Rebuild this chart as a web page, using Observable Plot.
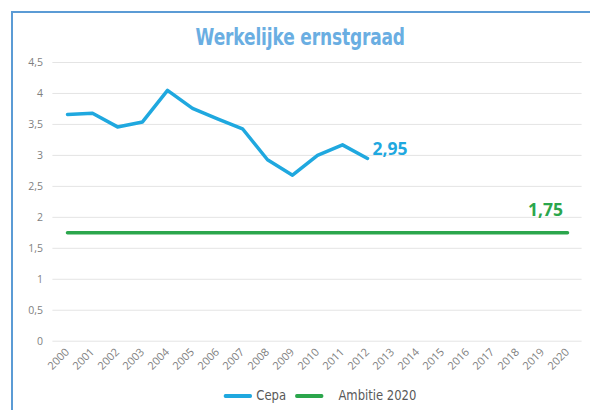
<!DOCTYPE html>
<html>
<head>
<meta charset="utf-8">
<script src="https://cdn.jsdelivr.net/npm/d3@7"></script>
<script src="https://cdn.jsdelivr.net/npm/@observablehq/plot@0.6"></script>
<style>
  html, body { margin: 0; padding: 0; background: #fff; width: 590px; height: 410px; overflow: hidden; }
  #frame { position: absolute; left: 11px; top: 11px; width: 600px; height: 420px;
           border-left: 2px solid #5b9bd5; border-top: 2px solid #5b9bd5; box-sizing: border-box; }
  #title { position: absolute; left: 0; width: 600px; top: 24px; text-align: center;
           font-family: "DejaVu Sans", sans-serif; font-weight: bold; font-size: 23px; line-height: 26px;
           color: #6aaee2; transform: scaleX(0.74); transform-origin: 301px 0; letter-spacing: -0.2px; }
  #chart { position: absolute; left: 0; top: 50px; }
  #legend { position: absolute; left: 0; width: 640px; top: 387px; text-align: center;
            font-family: "DejaVu Sans", sans-serif; font-size: 13.5px; color: #595959;
            transform: scaleX(0.86); transform-origin: 320px 0; }
  .sw { display: inline-block; width: 33px; height: 4px; vertical-align: middle; margin-right: 5px; border-radius: 2px; }
  .item { display: inline-block; margin: 0 5px; }
</style>
</head>
<body>
<div id="frame"></div>
<div id="title">Werkelijke ernstgraad</div>
<div id="chart"></div>
<div id="legend"></div>
<script>
const years = ["2000","2001","2002","2003","2004","2005","2006","2007","2008","2009","2010",
               "2011","2012","2013","2014","2015","2016","2017","2018","2019","2020"];
const cepaYears = ["2000","2001","2002","2003","2004","2005","2006","2007","2008","2009","2010","2011","2012"];
const cepaValues = [3.66, 3.68, 3.46, 3.54, 4.05, 3.76, 3.59, 3.43, 2.93, 2.68, 3.00, 3.17, 2.95];
const ambitieYears = ["2000", "2020"];
const ambitieValues = [1.75, 1.75];
const yTicks = [0, 0.5, 1, 1.5, 2, 2.5, 3, 3.5, 4, 4.5];
const seriesNames = ["Cepa", "Ambitie 2020"];
const seriesColors = ["#1fa8df", "#2ba64c"];
const labels = [
  {year: "2012", value: 2.95, text: "2,95", series: "Cepa"},
  {year: "2019", value: 1.75, text: "1,75", series: "Ambitie 2020"}
];

const cepa = cepaYears.map((y, i) => ({year: y, value: cepaValues[i]}));
const ambitie = ambitieYears.map((y, i) => ({year: y, value: ambitieValues[i]}));
const fmt = v => String(v).replace(".", ",");

const chart = Plot.plot({
  width: 590,
  height: 335,
  marginTop: 12,
  marginBottom: 44.3,
  marginLeft: 52.4,
  marginRight: 8.4,
  style: {fontFamily: "'Open Sans', sans-serif", fontSize: "10px", color: "#7f7f7f", background: "transparent"},
  x: {type: "point", domain: years, padding: 0.5, label: null},
  y: {domain: [0, 4.5], label: null},
  marks: [
    Plot.ruleY(yTicks, {stroke: "#e4e4e4", strokeWidth: 1}),
    Plot.axisY({ticks: yTicks, tickFormat: fmt, tickSize: 0, tickPadding: 10, fontSize: 10.5, fill: "#7f7f7f"}),
    Plot.axisX({tickSize: 0, tickRotate: -45, tickPadding: 9, fontSize: 11, fill: "#7f7f7f", label: null}),
    Plot.line(ambitie, {x: "year", y: "value", stroke: seriesColors[1], strokeWidth: 3.5, strokeLinecap: "round"}),
    Plot.line(cepa, {x: "year", y: "value", stroke: seriesColors[0], strokeWidth: 3.5, strokeLinejoin: "round", strokeLinecap: "round"}),
    Plot.text(labels.slice(0,1), {x: "year", y: "value", text: "text", dx: 5, dy: -9, textAnchor: "start",
      fill: seriesColors[0], fontWeight: "bold", fontSize: 17.5}),
    Plot.text(labels.slice(1), {x: "year", y: "value", text: "text", dx: 3, dy: -22, textAnchor: "middle",
      fill: seriesColors[1], fontWeight: "bold", fontSize: 17.5})
  ]
});
document.getElementById("chart").appendChild(chart);

const legend = document.getElementById("legend");
legend.innerHTML = seriesNames.map((n, i) =>
  `<span class="item"><span class="sw" style="background:${seriesColors[i]}"></span>${i === 1 ? "&nbsp;&nbsp;&nbsp;" : ""}${n}</span>`
).join("");
</script>
</body>
</html>
